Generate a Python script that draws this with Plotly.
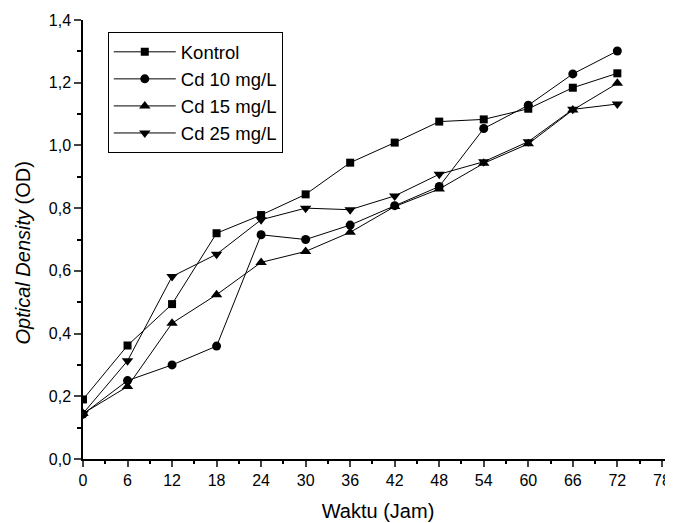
import plotly.graph_objects as go

waktu = [0, 6, 12, 18, 24, 30, 36, 42, 48, 54, 60, 66, 72]
kontrol = [0.190, 0.362, 0.494, 0.720, 0.778, 0.844, 0.945, 1.009, 1.076, 1.083, 1.117, 1.184, 1.230]
cd10 = [0.143, 0.250, 0.300, 0.360, 0.715, 0.700, 0.746, 0.808, 0.869, 1.054, 1.128, 1.228, 1.301]
cd15 = [0.145, 0.231, 0.433, 0.524, 0.627, 0.662, 0.723, 0.805, 0.861, 0.943, 1.005, 1.113, 1.198]
cd25 = [0.145, 0.313, 0.582, 0.653, 0.763, 0.800, 0.795, 0.839, 0.908, 0.948, 1.012, 1.115, 1.132]

series = [
    ("Kontrol", kontrol, "square", 8),
    ("Cd 10 mg/L", cd10, "circle", 9),
    ("Cd 15 mg/L", cd15, "triangle-up", 10),
    ("Cd 25 mg/L", cd25, "triangle-down", 10),
]

x_ticks = list(range(0, 79, 6))
y_ticks = [0.0, 0.2, 0.4, 0.6, 0.8, 1.0, 1.2, 1.4]

fig = go.Figure()
for name, vals, sym, sz in series:
    fig.add_trace(go.Scatter(
        x=waktu, y=vals, name=name, mode="lines+markers",
        line=dict(color="black", width=1),
        marker=dict(symbol=sym, size=sz, color="black"),
    ))

font = "Liberation Sans, Arial, sans-serif"
fig.update_layout(
    width=665, height=515,
    margin=dict(l=75, r=0, t=12, b=64),
    paper_bgcolor="white", plot_bgcolor="white",
    separators=",.",
    font=dict(family=font, color="black", size=16),
    showlegend=True,
    legend=dict(
        x=0.042, y=0.972, xanchor="left", yanchor="top",
        bgcolor="white", bordercolor="black", borderwidth=1,
        font=dict(size=18.5, family=font, color="black"),
        itemwidth=62,
    ),
    xaxis=dict(
        range=[0, 79.5], tickvals=x_ticks, ticks="outside", ticklen=6, tickwidth=1.5,
        showline=True, linecolor="black", linewidth=1.5, showgrid=False, zeroline=False,
        tickfont=dict(size=16),
        minor=dict(dtick=3, tick0=0, ticks="outside", ticklen=3, tickwidth=1.5, tickcolor="black"),
        title=dict(text="Waktu (Jam)", font=dict(size=20), standoff=16),
        automargin=False,
    ),
    yaxis=dict(
        range=[0, 1.4], tickvals=y_ticks, tickformat=".1f", ticks="outside", ticklen=7, tickwidth=1.5,
        showline=True, linecolor="black", linewidth=1.5, showgrid=False, zeroline=False,
        tickfont=dict(size=16),
        minor=dict(dtick=0.1, tick0=0, ticks="outside", ticklen=4, tickwidth=1.5, tickcolor="black"),
        automargin=False,
    ),
    annotations=[dict(
        text="<i>Optical Density</i> (OD)", textangle=-90, showarrow=False,
        xref="paper", yref="paper", x=-0.102, y=0.47, xanchor="center", yanchor="middle",
        font=dict(size=20, family=font, color="black"),
    )],
)

fig.write_html("out.html")
